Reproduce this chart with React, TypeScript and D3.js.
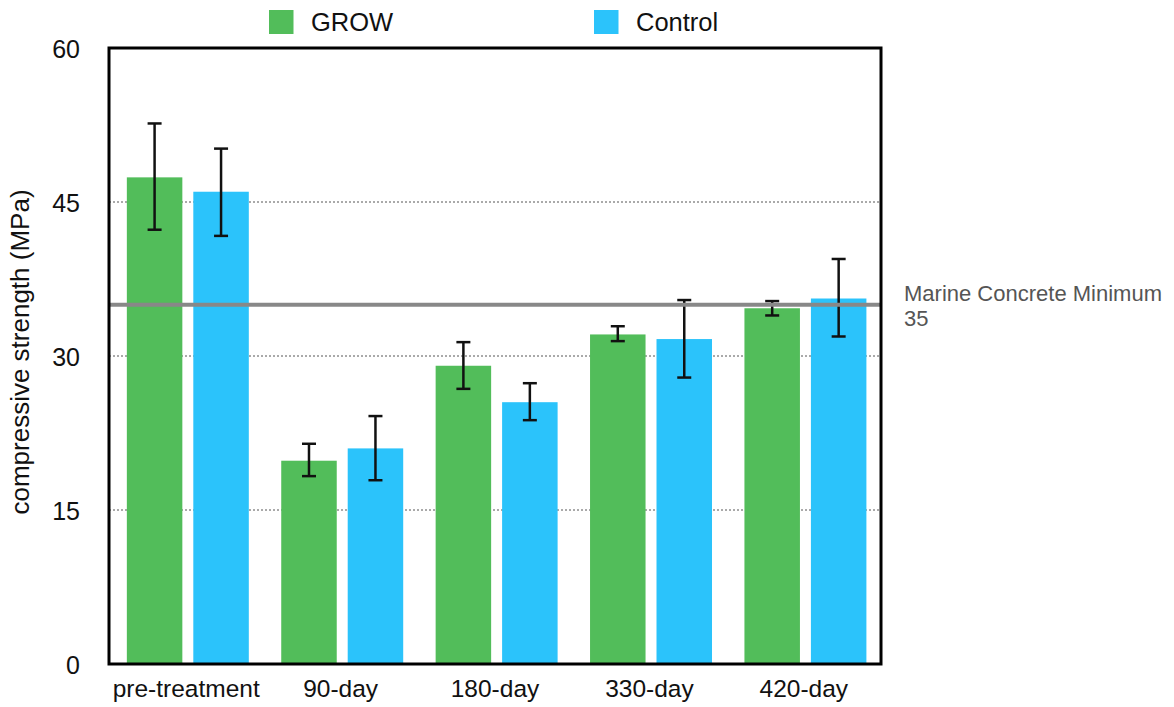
import React, { useEffect, useRef } from "react";
import * as d3 from "d3";

// Compressive strength by exposure period (MPa)
const categories = ["pre-treatment", "90-day", "180-day", "330-day", "420-day"];
const seriesNames = ["GROW", "Control"];
const growMean = [47.4, 19.8, 29.05, 32.1, 34.65];
const growHigh = [52.65, 21.45, 31.35, 32.9, 35.35];
const growLow = [42.3, 18.3, 26.8, 31.45, 33.95];
const controlMean = [46.0, 21.0, 25.5, 31.65, 35.6];
const controlHigh = [50.2, 24.15, 27.35, 35.45, 39.45];
const controlLow = [41.7, 17.9, 23.75, 27.9, 31.9];
const yTicks = [0, 15, 30, 45, 60];
const thresholdValue = 35;
const thresholdLabel = ["Marine Concrete Minimum", "35"];

const colors: Record<string, string> = { GROW: "#52BD5A", Control: "#2BC3FB" };

export default function App() {
  const ref = useRef<SVGSVGElement>(null);

  useEffect(() => {
    const svg = d3.select(ref.current);
    svg.selectAll("*").remove();

    const left = 109, right = 881, top = 48, bottom = 664;
    const font = "'Liberation Sans', Arial, Helvetica, sans-serif";

    const x0 = d3.scaleBand<string>().domain(categories).range([left, right]).padding(0);
    const x1 = d3
      .scaleBand<string>()
      .domain(seriesNames)
      .range([0, x0.bandwidth()])
      .paddingInner(0.165)
      .paddingOuter(0.244)
      .align(0.55);
    const y = d3.scaleLinear().domain([0, 60]).range([bottom, top]);

    const rows = categories.map((c, i) => ({
      category: c,
      values: [
        { key: "GROW", mean: growMean[i], hi: growHigh[i], lo: growLow[i] },
        { key: "Control", mean: controlMean[i], hi: controlHigh[i], lo: controlLow[i] },
      ],
    }));

    // dotted gridlines
    svg
      .append("g")
      .selectAll("line")
      .data(yTicks.filter((t) => t > 0 && t < 60))
      .join("line")
      .attr("x1", left)
      .attr("x2", right)
      .attr("y1", (d) => y(d))
      .attr("y2", (d) => y(d))
      .attr("stroke", "#555")
      .attr("stroke-width", 1)
      .attr("stroke-dasharray", "2,2");

    // bars
    const groups = svg
      .append("g")
      .selectAll("g")
      .data(rows)
      .join("g")
      .attr("transform", (d) => `translate(${x0(d.category)},0)`);

    groups
      .selectAll("rect")
      .data((d) => d.values)
      .join("rect")
      .attr("x", (d) => x1(d.key)!)
      .attr("width", x1.bandwidth())
      .attr("y", (d) => y(d.mean))
      .attr("height", (d) => y(0) - y(d.mean))
      .attr("fill", (d) => colors[d.key]);

    // threshold line
    svg
      .append("line")
      .attr("x1", left)
      .attr("x2", right)
      .attr("y1", y(thresholdValue))
      .attr("y2", y(thresholdValue))
      .attr("stroke", "#888")
      .attr("stroke-width", 4);

    // error bars
    const err = groups
      .selectAll("g.err")
      .data((d) => d.values)
      .join("g")
      .attr("class", "err")
      .attr("transform", (d) => `translate(${x1(d.key)! + x1.bandwidth() / 2},0)`);
    const cap = 7;
    const errStroke = 2.5;
    err
      .append("line")
      .attr("y1", (d) => y(d.hi))
      .attr("y2", (d) => y(d.lo))
      .attr("stroke", "#111")
      .attr("stroke-width", errStroke);
    err
      .append("line")
      .attr("x1", -cap)
      .attr("x2", cap)
      .attr("y1", (d) => y(d.hi))
      .attr("y2", (d) => y(d.hi))
      .attr("stroke", "#111")
      .attr("stroke-width", errStroke);
    err
      .append("line")
      .attr("x1", -cap)
      .attr("x2", cap)
      .attr("y1", (d) => y(d.lo))
      .attr("y2", (d) => y(d.lo))
      .attr("stroke", "#111")
      .attr("stroke-width", errStroke);

    // frame
    svg
      .append("rect")
      .attr("x", left)
      .attr("y", top)
      .attr("width", right - left)
      .attr("height", bottom - top)
      .attr("fill", "none")
      .attr("stroke", "#000")
      .attr("stroke-width", 3);

    // y tick labels
    svg
      .append("g")
      .selectAll("text")
      .data(yTicks)
      .join("text")
      .attr("x", 80)
      .attr("y", (d) => y(d) + 1)
      .attr("dy", "0.35em")
      .attr("text-anchor", "end")
      .attr("font-family", font)
      .attr("font-size", 25)
      .attr("fill", "#111")
      .text((d) => d);

    // category labels
    svg
      .append("g")
      .selectAll("text")
      .data(categories)
      .join("text")
      .attr("x", (d) => x0(d)! + x0.bandwidth() / 2)
      .attr("y", 697)
      .attr("text-anchor", "middle")
      .attr("font-family", font)
      .attr("font-size", 24.5)
      .attr("fill", "#111")
      .text((d) => d);

    // y axis title
    svg
      .append("text")
      .attr("transform", `translate(29,${(top + bottom) / 2 - 4}) rotate(-90)`)
      .attr("text-anchor", "middle")
      .attr("font-family", font)
      .attr("font-size", 26)
      .attr("fill", "#111")
      .text("compressive strength (MPa)");

    // threshold label
    svg
      .append("g")
      .selectAll("text")
      .data(thresholdLabel)
      .join("text")
      .attr("x", 904)
      .attr("y", (_, i) => 301 + i * 25)
      .attr("font-family", font)
      .attr("font-size", 22)
      .attr("fill", "#555")
      .text((d) => d);

    // legend
    const legendX = [269, 594];
    const legend = svg
      .append("g")
      .selectAll("g")
      .data(seriesNames)
      .join("g")
      .attr("transform", (_, i) => `translate(${legendX[i]},10)`);
    legend
      .append("rect")
      .attr("width", 24.5)
      .attr("height", 24)
      .attr("fill", (d) => colors[d]);
    legend
      .append("text")
      .attr("x", 42)
      .attr("y", 20.5)
      .attr("font-family", font)
      .attr("font-size", 25.5)
      .attr("fill", "#111")
      .text((d) => d);
  }, []);

  return (
    <svg
      ref={ref}
      width={1174}
      height={707}
      style={{ position: "absolute", left: 0, top: 0, background: "#fff" }}
    />
  );
}
